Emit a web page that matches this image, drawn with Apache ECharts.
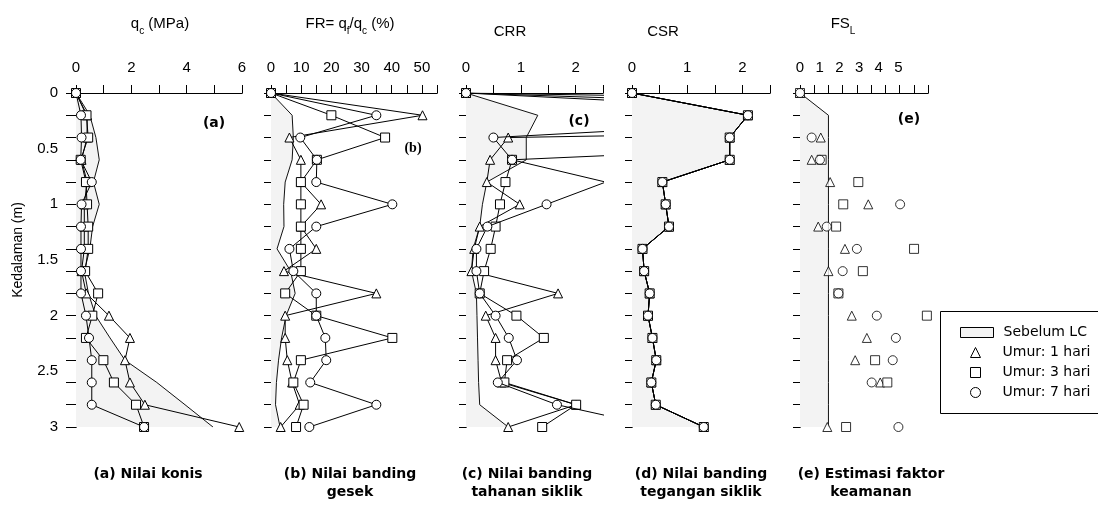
<!DOCTYPE html>
<html>
<head>
<meta charset="utf-8">
<script src="https://cdn.jsdelivr.net/npm/echarts@6/dist/echarts.min.js"></script>
<style>
  html, body { margin: 0; padding: 0; background: #fff; }
  #chart { width: 1098px; height: 512px; }
</style>
</head>
<body>
<div id="chart"></div>
<script>
// kedalaman (m) - satu titik tiap 0.2 m
const depths = ['0', '0.2', '0.4', '0.6', '0.8', '1', '1.2', '1.4', '1.6', '1.8', '2', '2.2', '2.4', '2.6', '2.8', '3'];
const depthTicks = [0, 0.2, 0.4, 0.6, 0.8, 1, 1.2, 1.4, 1.6, 1.8, 2, 2.2, 2.4, 2.6, 2.8, 3];
const depthLabels = [0, 0.5, 1, 1.5, 2, 2.5, 3];

// (a) qc (MPa)
const qcBefore = [0, 0.5, 0.72, 0.84, 0.63, 0.84, 0.6, 0.5, 0.3, 0.45, 0.71, 1.23, 1.77, 2.92, 3.94, 4.95];
const qcDay1 = [0, 0.4, 0.4, 0.2, 0.4, 0.3, 0.3, 0.3, 0.2, 0.37, 1.19, 1.95, 1.77, 1.95, 2.49, 5.9];
const qcDay3 = [0, 0.38, 0.44, 0.17, 0.36, 0.4, 0.44, 0.44, 0.33, 0.8, 0.59, 0.36, 0.99, 1.37, 2.17, 2.46];
const qcDay7 = [0, 0.18, 0.2, 0.17, 0.57, 0.2, 0.18, 0.18, 0.18, 0.18, 0.36, 0.47, 0.57, 0.57, 0.57, 2.46];
const qcTicks = [0, 1, 2, 3, 4, 5, 6];
const qcLabels = [0, 2, 4, 6];

// (b) FR (%)
const frBefore = [0, 7, 7.4, 7, 4.7, 4.2, 4.3, 2, 6.5, 8, 5, 3.5, 2.5, 1.8, 1.5, 3];
const frDay1 = [0, 50.2, 6.1, 9.9, 9.9, 16.6, 9.9, 15, 4.3, 34.9, 4.7, 4.7, 5.4, 7, 9.5, 3.2];
const frDay3 = [0, 20, 37.8, 15.2, 9.9, 9.9, 9.9, 9.9, 9.9, 4.7, 15, 40.2, 9.9, 7.4, 10.8, 8.3];
const frDay7 = [0, 34.9, 9.7, 15.2, 15, 40.2, 15, 6.1, 7.4, 15, 15, 18, 18.3, 13, 34.9, 12.7];
const frTicks = [0, 5, 10, 15, 20, 25, 30, 35, 40, 45, 50, 55];
const frLabels = [0, 10, 20, 30, 40, 50];

// (c) CRR
const crrBefore = [0, 1.31, 1.1, 1.1, 0.38, 0.3, 0.25, 0.13, 0.1, 0.19, 0.2, 0.21, 0.22, 0.23, 0.25, 0.77];
const crrDay1 = [0, 25, 0.77, 0.44, 0.38, 0.98, 0.25, 0.15, 0.1, 1.68, 0.36, 0.54, 0.54, 0.65, 2.01, 0.77];
const crrDay3 = [0, 12, 10, 0.84, 0.72, 0.62, 0.54, 0.45, 0.33, 0.25, 0.92, 1.42, 0.75, 0.7, 2.01, 1.39];
const crrDay7 = [0, 8, 0.5, 0.84, 2.55, 1.47, 0.39, 0.19, 0.19, 0.25, 0.54, 0.78, 0.93, 0.58, 1.66, 3.5];
const crrTicks = [0, 0.5, 1, 1.5, 2, 2.5];
const crrLabels = [0, 1, 2];

// (d) CSR - sama untuk semua kondisi
const csrBefore = [0, 2.1, 1.77, 1.77, 0.55, 0.61, 0.67, 0.19, 0.22, 0.32, 0.29, 0.37, 0.44, 0.35, 0.43, 1.3];
const csrDay1 = [0, 2.1, 1.77, 1.77, 0.55, 0.61, 0.67, 0.19, 0.22, 0.32, 0.29, 0.37, 0.44, 0.35, 0.43, 1.3];
const csrDay3 = [0, 2.1, 1.77, 1.77, 0.55, 0.61, 0.67, 0.19, 0.22, 0.32, 0.29, 0.37, 0.44, 0.35, 0.43, 1.3];
const csrDay7 = [0, 2.1, 1.77, 1.77, 0.55, 0.61, 0.67, 0.19, 0.22, 0.32, 0.29, 0.37, 0.44, 0.35, 0.43, 1.3];
const csrTicks = [0, 0.5, 1, 1.5, 2, 2.5];
const csrLabels = [0, 1, 2];

// (e) FS_L
const fsBefore = [0, 1, 1, 1, 1, 1, 1, 1, 1, 1, 1, 1, 1, 1, 1, 1];
const fsDay1 = [0, null, 0.73, 0.41, 1.06, 2.4, 0.64, 1.58, 1.0, null, 1.82, 2.35, 1.94, 2.82, null, 0.96];
const fsDay3 = [0, null, null, 0.76, 2.05, 1.52, 1.27, 4.01, 2.21, 1.35, 4.46, null, 2.64, 3.07, null, 1.62];
const fsDay7 = [0, null, 0.41, 0.7, null, 3.52, 0.94, 2.0, 1.5, 1.35, 2.7, 3.37, 3.26, 2.52, null, 3.46];
const fsTicks = [0, 0.5, 1, 1.5, 2, 2.5, 3, 3.5, 4, 4.5];
const fsLabels = [0, 1, 2, 3, 4, 5];

const FONT = "'Liberation Sans Narrow', 'Liberation Sans', Arial, sans-serif";
const SANS = "'DejaVu Sans', 'Liberation Sans', Arial, sans-serif";

const myChart = echarts.init(document.getElementById('chart'));

const panels = [
    { left: 76, width: 166, max: 6, ticks: qcTicks, labels: qcLabels },
    { left: 271, width: 166, max: 55, ticks: frTicks, labels: frLabels },
    { left: 466, width: 137, max: 2.5, ticks: crrTicks, labels: crrLabels },
    { left: 632, width: 138, max: 2.5, ticks: csrTicks, labels: csrLabels },
    { left: 800, width: 128, max: 4.5, ticks: fsTicks, labels: null }
];
const panelData = [
    [qcBefore, qcDay1, qcDay3, qcDay7],
    [frBefore, frDay1, frDay3, frDay7],
    [crrBefore, crrDay1, crrDay3, crrDay7],
    [csrBefore, csrDay1, csrDay3, csrDay7],
    [fsBefore, fsDay1, fsDay3, fsDay7]
];
const names = ['Sebelum LC', 'Umur: 1 hari', 'Umur: 3 hari', 'Umur: 7 hari'];
const symbols = ['none', 'triangle', 'rect', 'circle'];

const black = { color: '#000', width: 1 };
let grids = [], xAxes = [], yAxes = [], series = [];

panels.forEach(function (p, i) {
    grids.push({ left: p.left, top: 93, width: p.width, height: 334 });
    // sumbu atas
    xAxes.push({
        type: 'value', gridIndex: i, position: 'top', min: 0, max: p.max,
        axisLine: { lineStyle: black },
        axisTick: { show: true, length: 8, lineStyle: black, customValues: p.ticks },
        axisLabel: p.labels ? { show: true, customValues: p.labels, margin: 18, color: '#000', fontSize: 15, fontFamily: FONT } : { show: false },
        splitLine: { show: false }
    });
    // sumbu bawah
    xAxes.push({
        type: 'value', gridIndex: i, position: 'bottom', min: 0, max: p.max,
        axisLine: { lineStyle: black },
        axisTick: { show: true, inside: true, length: 7, lineStyle: black, customValues: p.ticks },
        axisLabel: { show: false },
        splitLine: { show: false }
    });
    // kiri
    yAxes.push({
        type: 'value', gridIndex: i, position: 'left', min: 0, max: 3, inverse: true,
        axisLine: { show: true, lineStyle: black },
        axisTick: { show: i === 0, length: 10, lineStyle: black, customValues: depthTicks },
        axisLabel: i === 0 ? { show: true, customValues: depthLabels, margin: 18, color: '#000', fontSize: 15, fontFamily: FONT } : { show: false },
        splitLine: { show: false }
    });
    // kanan
    yAxes.push({
        type: 'value', gridIndex: i, position: 'right', min: 0, max: 3, inverse: true,
        axisLine: { show: true, lineStyle: black },
        axisTick: { show: true, inside: true, length: 7, lineStyle: black, customValues: depthTicks },
        axisLabel: { show: false },
        splitLine: { show: false }
    });
    // kategori kedalaman (tersembunyi) untuk data
    yAxes.push({
        type: 'category', gridIndex: i, position: 'left', data: depths, inverse: true, boundaryGap: false,
        show: false
    });

    panelData[i].forEach(function (arr, k) {
        if (k === 0) {
            series.push({
                type: 'line', name: names[0], xAxisIndex: 2 * i, yAxisIndex: 3 * i + 2,
                data: arr, symbol: 'none', clip: true, z: 1,
                lineStyle: { color: '#111', width: 1 },
                areaStyle: { color: '#f3f3f3', opacity: 1 }
            });
        } else if (i === 4) {
            series.push({
                type: 'scatter', name: names[k], xAxisIndex: 2 * i, yAxisIndex: 3 * i + 2,
                data: arr.map(function (v, j) { return v === null ? null : [v, j]; }).filter(function (d) { return d; }),
                symbol: symbols[k], symbolSize: 9, z: 2 + k,
                itemStyle: { color: '#fff', borderColor: '#000', borderWidth: 1 }
            });
        } else {
            series.push({
                type: 'line', name: names[k], xAxisIndex: 2 * i, yAxisIndex: 3 * i + 2,
                data: arr, symbol: symbols[k], symbolSize: 9, showSymbol: true, clip: true, z: 2 + k,
                lineStyle: { color: '#000', width: 1 },
                itemStyle: { color: '#fff', borderColor: '#000', borderWidth: 1 }
            });
        }
    });
});

// label FS_L (skala label di gambar asli lebih rapat dari skala tick)
xAxes.push({
    type: 'value', gridIndex: 4, position: 'top', min: 0, max: 6.5,
    axisLine: { show: false }, axisTick: { show: false }, splitLine: { show: false },
    axisLabel: { show: true, customValues: fsLabels, margin: 18, color: '#000', fontSize: 15, fontFamily: FONT }
});

const subRich = {
    n: { fontSize: 15, lineHeight: 16, verticalAlign: 'top', fontFamily: FONT, color: '#000' },
    s: { fontSize: 10, lineHeight: 10, padding: [10, 0, 0, 0], verticalAlign: 'top', fontFamily: FONT, color: '#000' }
};
function headText(x, y, text) {
    return { type: 'text', x: x, y: y, style: { text: text, rich: subRich, align: 'center', verticalAlign: 'middle' } };
}
function boldText(x, y, text, fam) {
    return { type: 'text', x: x, y: y, style: { text: text, font: 'bold 14px ' + (fam || SANS), fill: '#000', align: 'center', verticalAlign: 'top', lineHeight: 18 } };
}

const legendText = { fontSize: 14, color: '#000', fontFamily: SANS, lineHeight: 17 };
const legendItem = { color: '#fff', borderColor: '#000', borderWidth: 1 };

const graphics = [
    headText(160, 24, '{n|q}{s|c}{n| (MPa)}'),
    headText(350, 24, '{n|FR= q}{s|f}{n|/q}{s|c}{n| (%)}'),
    headText(510, 32, '{n|CRR}'),
    headText(663, 32, '{n|CSR}'),
    headText(843, 24, '{n|FS}{s|L}'),
    { type: 'text', x: 18, y: 250, rotation: Math.PI / 2, style: { text: 'Kedalaman (m)', font: '14px ' + FONT, fill: '#000', align: 'center', verticalAlign: 'middle' } },
    boldText(214, 114, '(a)'),
    boldText(413, 139, '(b)', "'Liberation Serif', serif"),
    boldText(579, 112, '(c)'),
    boldText(654, 110, '(d)', "'Liberation Serif', serif"),
    boldText(909, 110, '(e)'),
    boldText(148, 465, '(a) Nilai konis'),
    boldText(350, 465, '(b) Nilai banding\ngesek'),
    boldText(527, 465, '(c) Nilai banding\ntahanan siklik'),
    boldText(701, 465, '(d) Nilai banding\ntegangan siklik'),
    boldText(871, 465, '(e) Estimasi faktor\nkeamanan'),
    { type: 'rect', shape: { x: 940.5, y: 311.5, width: 170, height: 102 }, style: { fill: '#fff', stroke: '#000', lineWidth: 1 }, z: -1 }
];

const option = {
    animation: false,
    backgroundColor: '#fff',
    grid: grids,
    xAxis: xAxes,
    yAxis: yAxes,
    legend: [
        {
            orient: 'vertical', left: 960, top: 324, itemWidth: 33, itemHeight: 10, itemGap: 3,
            padding: 0, selectedMode: false,
            textStyle: Object.assign({ padding: [0, 0, 0, 5] }, legendText),
            data: [{ name: 'Sebelum LC', icon: 'rect', itemStyle: { color: '#f3f3f3', borderColor: '#000', borderWidth: 1 } }]
        },
        {
            orient: 'vertical', left: 970, top: 344, itemWidth: 10, itemHeight: 10, itemGap: 3,
            padding: 0, selectedMode: false,
            textStyle: Object.assign({ padding: [0, 0, 0, 17] }, legendText),
            data: [
                { name: 'Umur: 1 hari', icon: 'triangle', itemStyle: legendItem },
                { name: 'Umur: 3 hari', icon: 'rect', itemStyle: legendItem },
                { name: 'Umur: 7 hari', icon: 'circle', itemStyle: legendItem }
            ]
        }
    ],
    graphic: graphics,
    series: series
};

myChart.setOption(option);
</script>
</body>
</html>
